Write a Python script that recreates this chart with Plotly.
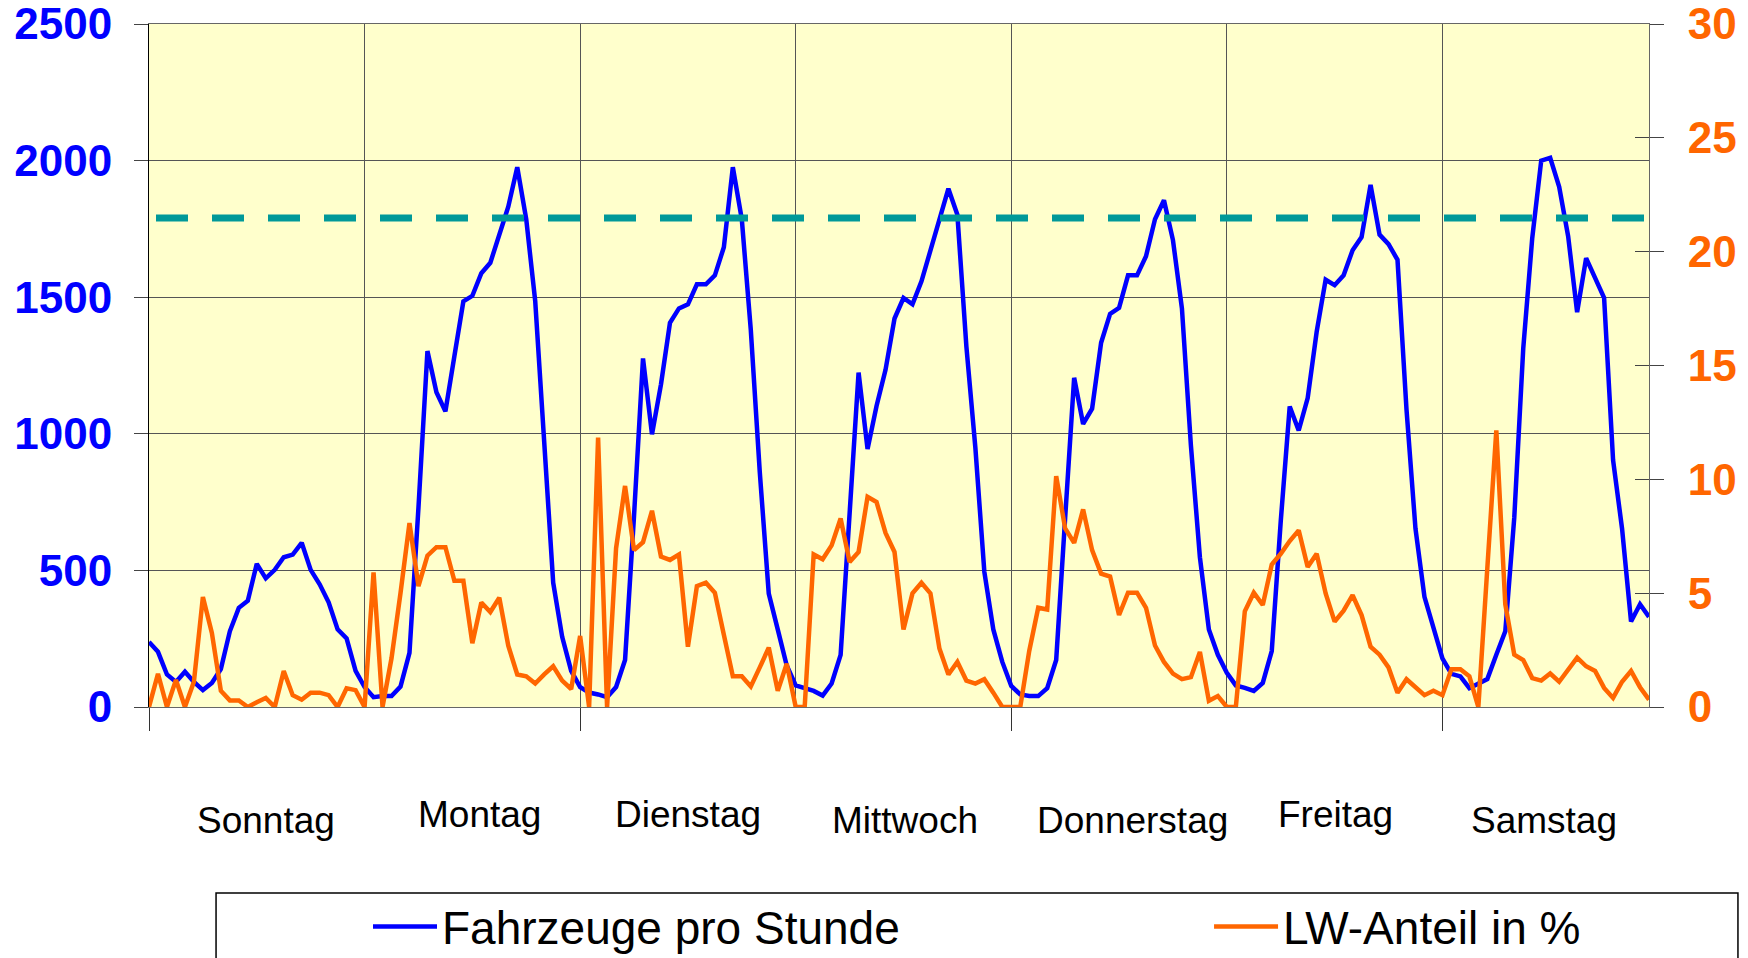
import plotly.graph_objects as go

# ---- data ----
days = ["Sonntag", "Montag", "Dienstag", "Mittwoch", "Donnerstag", "Freitag", "Samstag"]
day_label_pos = [13.0, 36.8, 60.0, 84.2, 109.5, 132.1, 155.3]
day_label_y = [-0.166, -0.158, -0.158, -0.166, -0.166, -0.158, -0.166]

fahrzeuge = [
    238, 202, 119, 92, 129, 92, 62, 88, 139, 277, 363, 389, 524, 471, 502, 548, 558, 601, 502, 449, 383, 284, 251, 132,
    73, 36, 40, 40, 75, 198, 730, 1303, 1152, 1082, 1284, 1485, 1505, 1588, 1626, 1723, 1831, 1976, 1785, 1485, 1000, 455, 257, 132,
    73, 53, 46, 36, 73, 172, 700, 1276, 998, 1181, 1406, 1459, 1474, 1547, 1547, 1580, 1683, 1976, 1785, 1380, 860, 415, 284, 152,
    79, 69, 59, 42, 86, 191, 720, 1224, 944, 1102, 1234, 1422, 1497, 1474, 1558, 1676, 1789, 1897, 1802, 1320, 950, 495, 284, 165,
    77, 46, 40, 40, 69, 172, 693, 1205, 1036, 1092, 1333, 1439, 1461, 1580, 1580, 1650, 1785, 1855, 1709, 1459, 957, 548, 284, 191,
    125, 79, 70, 59, 88, 205, 680, 1100, 1012, 1131, 1373, 1564, 1544, 1580, 1672, 1720, 1911, 1729, 1694, 1637, 1089, 653, 403, 284,
    178, 121, 112, 69, 86, 102, 191, 277, 693, 1313, 1716, 2000, 2010, 1904, 1723, 1445, 1643, 1571, 1498, 904, 653, 313, 376, 330,
]

lw_anteil = [
    0, 1.46, 0, 1.19, 0, 1.11, 4.83, 3.25, 0.71, 0.29, 0.29, 0, 0.21, 0.40, 0, 1.58, 0.52, 0.32, 0.63, 0.63, 0.52, 0, 0.82, 0.74,
    0, 5.91, 0, 2.14, 5.0, 8.08, 5.31, 6.65, 7.02, 7.02, 5.54, 5.54, 2.80, 4.59, 4.17, 4.80, 2.69, 1.43, 1.35, 1.03, 1.43, 1.79, 1.16, 0.79,
    3.12, 0, 11.83, 0, 6.97, 9.71, 6.89, 7.24, 8.62, 6.61, 6.46, 6.70, 2.65, 5.31, 5.46, 5.02, 3.17, 1.35, 1.35, 0.90, 1.74, 2.61, 0.71, 1.90,
    0, 0, 6.70, 6.49, 7.10, 8.28, 6.37, 6.81, 9.23, 9.00, 7.65, 6.81, 3.41, 4.99, 5.46, 4.99, 2.57, 1.43, 1.98, 1.16, 1.03, 1.22, 0.63, 0,
    0, 0, 2.46, 4.36, 4.28, 10.14, 7.84, 7.21, 8.68, 6.89, 5.86, 5.73, 4.04, 5.02, 5.02, 4.36, 2.70, 1.98, 1.47, 1.22, 1.31, 2.42, 0.27, 0.48,
    0, 0, 4.20, 5.02, 4.48, 6.26, 6.73, 7.29, 7.76, 6.15, 6.73, 4.99, 3.75, 4.23, 4.91, 4.04, 2.65, 2.30, 1.74, 0.63, 1.22, 0.87, 0.52, 0.71,
    0.52, 1.66, 1.66, 1.35, 0, 6.1, 12.15, 4.51, 2.30, 2.06, 1.27, 1.16, 1.47, 1.11, 1.66, 2.17, 1.79, 1.58, 0.84, 0.40, 1.11, 1.58, 0.87, 0.32,
]

grenzwert = 1790
hours = list(range(len(fahrzeuge)))

BLUE = "#0000FF"
ORANGE = "#FF6600"
TEAL = "#009999"
FONT = "Liberation Sans, Arial, sans-serif"

fig = go.Figure()
fig.add_trace(go.Scatter(x=hours, y=fahrzeuge, mode="lines", name="Fahrzeuge pro Stunde",
                         line=dict(color=BLUE, width=4.5), yaxis="y", legend="legend"))
fig.add_trace(go.Scatter(x=hours, y=lw_anteil, mode="lines", name="LW-Anteil in %",
                         line=dict(color=ORANGE, width=4.5), yaxis="y2", legend="legend2"))
fig.add_trace(go.Scatter(x=[hours[0], hours[-1]], y=[grenzwert, grenzwert], mode="lines",
                         line=dict(color=TEAL, width=7, dash="0px,7px,32px,17px"),
                         showlegend=False, yaxis="y", hoverinfo="skip"))
fig.add_trace(go.Scatter(x=[hours[0]], y=[0], mode="markers", marker=dict(opacity=0),
                         showlegend=False, hoverinfo="skip", yaxis="y3"))

annotations = []
for name, xp, yp in zip(days, day_label_pos, day_label_y):
    annotations.append(dict(x=xp, y=yp, xref="x", yref="paper", text=name, showarrow=False,
                            font=dict(family=FONT, size=37, color="black"),
                            xanchor="center", yanchor="middle"))

legend_common = dict(orientation="h", xanchor="left", yanchor="top", y=-0.268,
                     font=dict(family=FONT, size=46, color="black"),
                     bgcolor="rgba(0,0,0,0)", borderwidth=0, itemwidth=64)

fig.update_layout(
    width=1748, height=958,
    margin=dict(l=149, r=99, t=24, b=251, autoexpand=False),
    paper_bgcolor="white",
    plot_bgcolor="#FFFFCC",
    showlegend=True,
    legend=dict(x=0.146, **legend_common),
    legend2=dict(x=0.7067, **legend_common),
    annotations=annotations,
    shapes=[dict(type="rect", xref="paper", yref="paper", x0=0.0447, x1=1.0593, y0=-0.2723, y1=-0.45,
                 line=dict(color="black", width=1.5), fillcolor="rgba(0,0,0,0)", layer="above")],
    xaxis=dict(range=[0, 167], tickmode="linear", tick0=0, dtick=48, showticklabels=False,
               ticks="outside", ticklen=23, tickcolor="#333333", tickwidth=1,
               showgrid=True, gridcolor="#555555", gridwidth=1,
               minor=dict(tick0=0, dtick=24, showgrid=True, gridcolor="#555555", gridwidth=1, ticks=""),
               showline=True, linecolor="#666666", linewidth=1, mirror=True, zeroline=False),
    yaxis=dict(range=[0, 2500], tickmode="linear", tick0=0, dtick=500,
               tickfont=dict(family=FONT, size=44, color=BLUE, weight="bold"),
               ticks="outside", ticklen=14, tickcolor="#444444", ticklabelstandoff=13,
               ticklabeloverflow="allow",
               showgrid=True, gridcolor="#555555", gridwidth=1,
               showline=True, linecolor="black", linewidth=1, zeroline=False),
    yaxis2=dict(range=[0, 30], tickmode="linear", tick0=0, dtick=5, overlaying="y", side="right",
                tickfont=dict(family=FONT, size=44, color=ORANGE, weight="bold"),
                ticks="outside", ticklen=14, tickcolor="#444444", ticklabelstandoff=15,
                ticklabeloverflow="allow",
                showgrid=False, showline=True, linecolor="#666666", linewidth=1, zeroline=False),
    yaxis3=dict(range=[0, 30], tickmode="linear", tick0=0, dtick=5, overlaying="y", side="right",
                ticks="inside", ticklen=14, tickcolor="#444444", showticklabels=False,
                showgrid=False, showline=False, zeroline=False),
)

fig.write_html("out.html", config={"displayModeBar": False},
               post_script="document.body.style.margin='0px'; document.body.style.overflow='hidden';")
